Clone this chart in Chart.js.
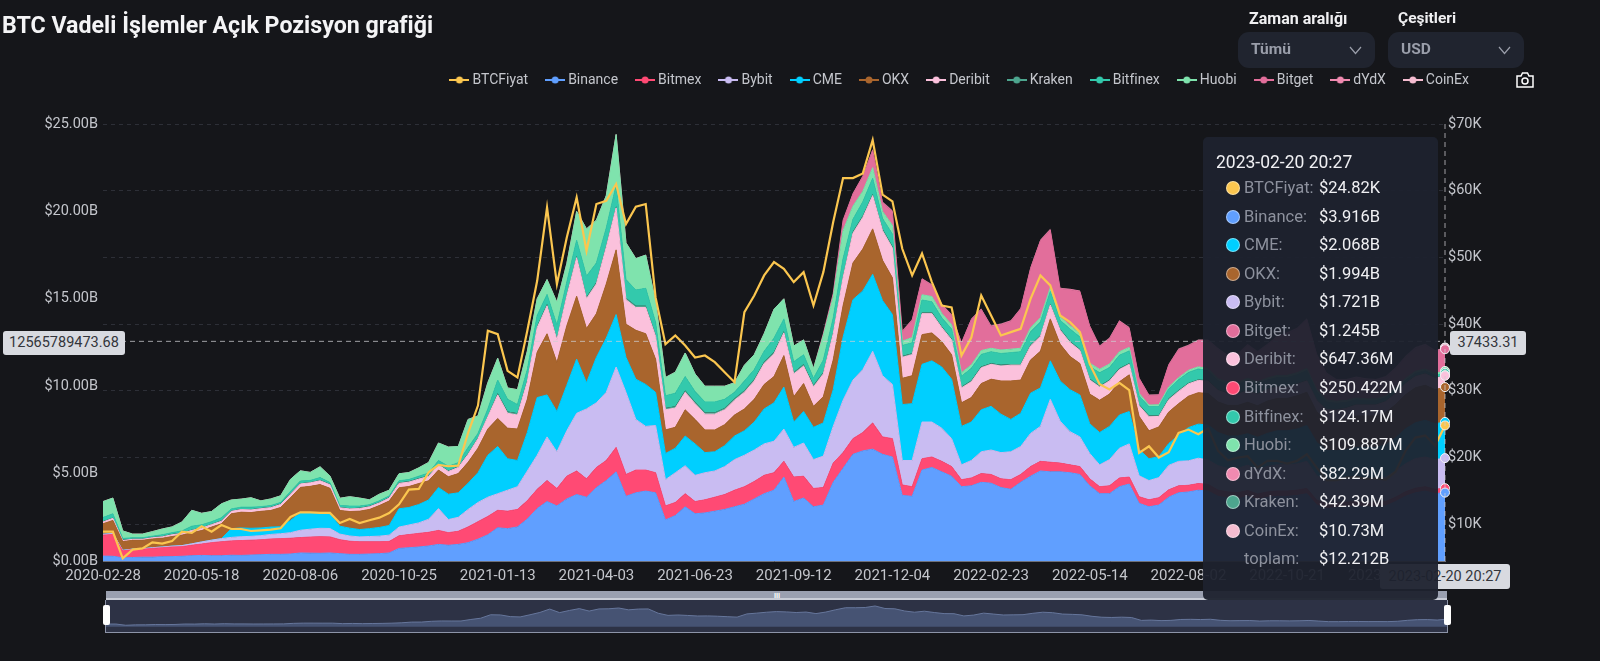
<!DOCTYPE html>
<html lang="tr">
<head>
<meta charset="utf-8">
<title>BTC Vadeli İşlemler Açık Pozisyon grafiği</title>
<script src="https://cdn.jsdelivr.net/npm/chart.js@4/dist/chart.umd.min.js"></script>
<style>
  html, body { margin: 0; padding: 0; background: #15161a; width: 1600px; height: 661px; overflow: hidden; font-family: Roboto, sans-serif; }
  .abs { position: absolute; white-space: nowrap; }
  #plot { position: absolute; left: 0; top: 0; }
  #titulo { left: 2px; top: 11px; font-size: 23.200px; font-weight: 700; color: #f4f4f6; }
  .etiqueta { top: 9px; font-size: 15.500px; font-weight: 700; color: #f0f0f2; }
  .selector { top: 32px; height: 36px; background: #20242f; border-radius: 11px; color: #9a9eaa; font-size: 15.500px; font-weight: 700; line-height: 34px; }
  .selector span { position: absolute; left: 13px; }
  .selector svg { position: absolute; right: 13px; top: 14px; }
  .caja { background: #d8dae0; color: #33353b; font-size: 14.500px; text-align: center; border-radius: 3px; }
  #tooltip { left: 1203px; top: 137px; width: 235px; height: 463px; background: rgba(30,34,46,.95); border-radius: 5px; color: #f0f0f3; font-size: 16.500px; }
  #tooltip .fecha { position: absolute; left: 13px; top: 15px; font-size: 17.500px; }
  #tooltip .nombre { position: absolute; left: 41px; color: #8d919d; }
  #tooltip .valor { position: absolute; left: 116px; }
  #tooltip .punto { position: absolute; left: 23px; width: 12px; height: 12px; border-radius: 50%; border: 1px solid rgba(255,255,255,.45); }
  #barra { left: 106px; top: 591px; width: 1341px; height: 7px; background: #9aa0b0; border-bottom: 2px solid #c8ccd6; }
  #panel { left: 105px; top: 600px; width: 1341px; height: 32px; background: #2d3245; border: 1px solid #8d94a8; border-top: 0; }
  #mini { position: absolute; left: 106px; top: 600px; }
  .asa { top: 605px; width: 7px; height: 20px; background: #fff; border-radius: 2px; }
</style>
</head>
<body>
<canvas id="plot" width="1600" height="661"></canvas>
<div class="abs" id="titulo">BTC Vadeli İşlemler Açık Pozisyon grafiği</div>
<div class="abs etiqueta" style="left:1249px;font-size:16px">Zaman aralığı</div>
<div class="abs etiqueta" style="left:1398px">Çeşitleri</div>
<div class="abs selector" style="left:1238px;width:137px"><span>Tümü</span><svg width="13" height="9" viewBox="0 0 13 9"><path d="M1 1l5.500 6.500L12 1" fill="none" stroke="#9a9eaa" stroke-width="1.200"/></svg></div>
<div class="abs selector" style="left:1388px;width:136px"><span>USD</span><svg width="13" height="9" viewBox="0 0 13 9"><path d="M1 1l5.500 6.500L12 1" fill="none" stroke="#9a9eaa" stroke-width="1.200"/></svg></div>
<svg class="abs" style="left:1516px;top:72px" width="18" height="16" viewBox="0 0 18 16"><path d="M1 4h4l1.500-3h5L13 4h4v11H1z" fill="none" stroke="#fff" stroke-width="1.500"/><circle cx="9" cy="9" r="3" fill="none" stroke="#fff" stroke-width="1.500"/></svg>

<div class="abs" id="barra"></div>
<div class="abs" id="panel"></div>
<canvas id="mini" width="1341" height="32"></canvas>
<div class="abs" style="left:774px;top:592px;font-size:7px;color:#fff;letter-spacing:0;font-weight:700">III</div>
<div class="abs asa" style="left:103px"></div>
<div class="abs asa" style="left:1444px"></div>

<div class="abs caja" style="left:3px;top:331px;width:122px;height:24px;line-height:24px">12565789473.68</div>
<div class="abs caja" style="left:1450px;top:331px;width:76px;height:24px;line-height:24px">37433.31</div>
<div class="abs caja" style="left:1380px;top:564px;width:130px;height:25px;line-height:25px">2023-02-20 20:27</div>
<div class="abs" id="tooltip"></div>

<script>
//Fechas de las marcas del eje x, una cada 10 muestras
const etiquetasEje = ['2020-02-28','2020-05-18','2020-08-06','2020-10-25','2021-01-13','2021-04-03','2021-06-23','2021-09-12','2021-12-04','2022-02-23','2022-05-14','2022-08-02','2022-10-21','2023-01-10'];

//Precio BTC en miles de dolares, una muestra cada 8 dias
const btcFiyat = [
  8.9,8.9,4.9,6.2,6.4,7.3,7.1,7.5,8.9,8.7,
  9.7,8.9,9.9,9.3,9.3,9.0,9.1,9.2,9.4,11.1,
  11.8,11.8,11.7,11.7,10.2,10.8,10.2,10.6,11.0,11.7,
  13.0,15.2,15.3,17.8,18.9,18.7,18.8,23.7,27.8,39.0,
  38.5,33.0,32.0,39.0,46.5,57.5,46.0,53.0,59.0,51.0,
  58.0,58.5,61.0,55.0,57.6,58.0,44.0,37.0,38.3,36.8,
  35.0,35.3,34.3,32.8,31.3,41.8,44.3,47.3,49.3,48.3,
  46.3,47.8,42.8,47.8,55.3,61.9,61.9,62.6,67.6,59.4,
  58.4,51.3,47.3,50.6,46.3,42.8,42.5,35.3,38.0,44.3,
  41.3,38.3,38.8,39.3,43.8,47.3,45.8,41.3,40.3,38.8,
  34.0,31.0,30.2,31.2,30.1,20.7,21.7,20.0,20.8,23.7,
  24.2,23.5,24.4,21.0,19.6,20.0,20.2,18.5,19.5,19.5,
  19.1,19.5,20.5,18.5,16.6,16.6,17.0,17.1,16.8,16.9,
  16.7,17.9,21.0,23.0,23.3,21.8,24.82
];

//Posiciones abiertas en miles de millones de dolares
const binance = [
  .28,.27,.18,.2,.22,.22,.24,.25,.27,.3,
  .32,.3,.3,.33,.32,.34,.36,.38,.38,.4,
  .46,.45,.44,.46,.42,.38,.38,.4,.42,.46,
  .72,.76,.8,.86,.95,.9,.95,1.05,1.25,1.5,
  1.9,1.85,1.95,2.4,3.0,3.4,3.15,3.55,3.8,3.65,
  4.2,4.6,5.1,3.7,3.9,4.0,3.9,2.35,2.6,3.1,
  2.7,2.75,2.85,2.95,3.1,3.25,3.55,3.85,4.05,4.8,
  3.4,3.6,3.1,3.2,4.5,5.3,6.1,6.3,6.4,6.1,
  5.95,3.75,3.7,5.2,5.35,5.1,4.85,4.25,4.3,4.5,
  4.45,4.2,4.1,4.5,4.85,5.15,5.1,5.1,5.05,4.95,
  4.3,3.85,3.85,4.25,4.4,3.3,3.1,3.2,3.65,3.9,
  3.95,4.05,4.0,3.7,3.6,3.55,3.7,3.5,3.65,3.7,
  3.7,3.75,3.85,3.2,3.0,3.05,3.1,3.15,3.1,3.1,
  3.15,3.4,3.7,3.9,4.0,3.85,3.916
];
const bitmex = [
  1.2,1.25,.4,.45,.45,.5,.52,.55,.55,.6,
  .65,.75,.8,.82,.85,.85,.85,.88,.9,.9,
  .88,.92,.95,.92,.8,.75,.72,.7,.68,.66,
  .72,.75,.78,.78,.8,.72,.75,.9,1.0,1.05,
  1.0,1.0,1.0,1.05,1.1,1.2,1.0,1.3,1.35,1.05,
  1.15,1.15,1.4,1.25,1.3,1.2,1.15,.8,.75,.75,
  .7,.75,.8,.85,.95,1.0,1.0,1.05,1.0,.9,
  1.4,1.25,1.05,1.0,1.1,.9,.9,1.05,1.5,1.0,
  1.05,.6,.55,.65,.6,.6,.55,.4,.45,.5,
  .5,.5,.55,.45,.55,.55,.55,.5,.45,.45,
  .4,.4,.45,.5,.4,.38,.4,.42,.42,.4,
  .38,.38,.38,.35,.35,.35,.33,.33,.3,.3,
  .3,.3,.3,.28,.28,.26,.26,.25,.25,.25,
  .25,.25,.26,.26,.25,.25,.25
];
const bybit = [
  .05,.05,.03,.03,.03,.04,.04,.05,.06,.08,
  .12,.14,.18,.2,.22,.22,.24,.26,.28,.32,
  .42,.45,.48,.48,.32,.3,.28,.3,.32,.36,
  .5,.55,.6,.75,1.25,.75,.8,1.0,1.1,1.1,
  .95,1.2,1.3,1.7,1.95,2.5,2.1,2.6,3.3,4.0,
  3.7,3.9,4.6,4.7,2.9,2.5,2.7,1.5,1.7,1.6,
  1.5,1.55,1.5,1.6,1.75,1.8,1.8,1.8,1.8,1.85,
  1.7,1.9,1.65,1.8,2.1,3.0,3.35,3.6,4.1,3.5,
  3.1,1.4,1.5,2.1,2.0,1.9,1.6,.85,1.0,1.25,
  1.4,1.5,1.6,1.6,1.9,2.0,3.6,2.4,1.9,1.7,
  1.45,1.25,1.5,1.7,1.9,1.2,1.1,1.15,1.4,1.4,
  1.4,1.45,1.4,1.4,1.35,1.4,1.45,1.4,1.45,1.5,
  1.5,1.5,1.55,1.4,1.3,1.3,1.3,1.35,1.35,1.35,
  1.4,1.5,1.6,1.7,1.7,1.7,1.721
];
const cme = [
  0,0,0,0,0,0,0,0,0,0,
  0,0,0,.5,.5,.46,.44,.42,.4,.7,
  1.0,.95,.9,.85,.45,.45,.42,.45,.5,.55,
  1.05,1.0,1.05,1.1,1.2,1.45,1.4,1.5,1.7,2.4,
  2.7,1.8,1.5,2.2,3.3,2.4,2.3,2.6,3.1,1.5,
  2.6,3.1,3.0,2.0,2.3,2.4,1.9,1.5,1.4,1.7,
  1.8,1.15,1.1,1.2,1.35,1.4,1.6,2.0,2.2,2.4,
  1.45,1.8,1.85,1.9,2.1,3.6,4.6,4.5,4.4,4.3,
  4.0,3.2,3.25,3.3,3.5,3.5,3.4,2.2,2.2,2.4,
  2.5,2.2,1.85,1.9,2.3,2.2,2.2,2.3,2.4,2.4,
  1.7,1.85,1.9,1.9,1.85,1.5,1.25,1.2,1.25,1.5,
  1.9,1.95,2.0,1.9,1.85,1.85,1.8,1.85,1.9,1.95,
  1.95,2.0,2.05,1.9,1.75,1.7,1.7,1.75,1.8,1.8,
  1.85,1.9,2.0,2.05,2.1,2.05,2.068
];
const okx = [
  .6,.75,.5,.5,.48,.5,.5,.55,.6,.65,
  .65,.75,.85,.85,.9,.9,.95,.95,1.1,1.3,
  1.45,1.5,1.6,1.45,.9,.95,1.05,1.1,1.25,1.4,
  1.2,1.2,1.2,1.1,1.0,1.0,1.1,1.2,1.4,1.5,
  1.6,1.75,1.8,1.9,2.6,3.5,2.8,3.4,3.6,3.1,
  2.5,3.1,3.7,1.9,2.8,2.9,1.9,1.35,1.2,1.5,
  1.4,1.3,1.25,1.2,1.2,1.25,1.3,1.4,1.5,1.8,
  1.45,1.6,1.2,1.5,1.7,1.8,2.1,2.4,2.6,2.3,
  2.1,1.5,1.6,1.7,1.6,1.45,1.4,1.35,1.4,1.5,
  1.55,1.9,2.2,1.9,1.9,2.1,2.4,2.1,1.9,1.8,
  1.7,1.85,1.85,1.9,2.1,1.9,1.6,1.7,1.8,1.8,
  1.8,1.8,1.8,1.75,1.75,1.75,1.8,1.8,1.85,1.85,
  1.85,1.9,1.9,1.75,1.7,1.7,1.75,1.8,1.8,1.8,
  1.85,1.9,1.95,2.0,2.0,1.95,1.994
];
const deribit = [
  .1,.12,.06,.06,.06,.07,.08,.1,.1,.12,
  .14,.14,.14,.14,.15,.15,.15,.16,.17,.2,
  .2,.2,.22,.2,.15,.15,.15,.15,.15,.17,
  .25,.25,.25,.25,.3,.3,.35,.45,.55,.7,
  1.35,.85,.8,1.0,1.4,1.6,1.3,1.7,2.2,1.7,
  1.7,2.1,2.4,1.4,1.3,1.5,1.3,1.15,1.1,1.0,
  .9,.9,.9,.85,.85,.95,1.05,1.2,1.3,1.3,
  1.3,1.0,1.1,1.3,1.5,1.6,1.7,1.8,1.9,1.7,
  1.7,1.2,1.2,1.2,1.1,.8,.85,.85,.9,.9,
  .85,.85,.9,.85,.8,.85,.8,.8,.8,.75,
  .8,.75,.75,.7,.6,.6,.8,.6,.7,.7,
  .7,.7,.7,.65,.65,.65,.65,.65,.65,.65,
  .65,.65,.65,.65,.62,.62,.62,.62,.62,.62,
  .62,.63,.63,.64,.65,.65,.647
];
const kraken = [
  .04,.04,.04,.04,.04,.04,.04,.04,.04,.04,
  .04,.04,.04,.04,.04,.04,.04,.04,.04,.04,
  .04,.04,.04,.04,.04,.04,.04,.04,.04,.04,
  .05,.05,.05,.05,.05,.05,.05,.05,.05,.05,
  .1,.1,.1,.1,.1,.1,.1,.1,.1,.1,
  .1,.1,.1,.1,.1,.1,.1,.1,.1,.1,
  .1,.1,.1,.1,.1,.1,.1,.1,.1,.1,
  .1,.1,.1,.1,.1,.1,.1,.1,.1,.1,
  .1,.08,.08,.08,.08,.07,.07,.07,.07,.07,
  .07,.07,.07,.07,.07,.07,.07,.07,.07,.07,
  .07,.07,.07,.07,.07,.07,.07,.07,.07,.07,
  .06,.06,.06,.06,.06,.06,.05,.05,.05,.05,
  .05,.05,.05,.05,.05,.05,.05,.05,.05,.05,
  .04,.04,.04,.04,.04,.04,.042
];
const bitfinex = [
  .22,.22,.08,.05,.05,.05,.08,.08,.1,.2,
  .15,.13,.16,.1,.1,.12,.08,.08,.08,.12,
  .12,.1,.14,.09,.1,.12,.1,.08,.08,.08,
  .1,.1,.12,.14,.2,.25,.22,.35,.25,.4,
  .75,.7,.5,.6,.6,.55,.75,.7,.9,1.2,
  1.1,1.0,1.2,1.05,.9,1.0,.7,.7,.75,.8,
  .6,.6,.6,.5,.35,.55,.55,.6,.8,.7,
  .6,.55,.4,.7,.8,1.0,.7,.8,.9,.6,
  .7,.6,.6,.7,.6,.5,.55,.6,.7,.7,
  .65,.65,.65,.7,.75,.75,.7,.5,.7,.7,
  .7,.75,.7,.75,.7,.5,.5,.5,.55,.6,
  .6,.6,.55,.5,.5,.5,.55,.55,.5,.5,
  .5,.5,.55,.45,.4,.35,.3,.25,.2,.2,
  .18,.18,.16,.15,.14,.13,.124
];
const huobi = [
  .91,.9,.43,.21,.21,.26,.33,.33,.51,.91,
  .66,.58,.8,.51,.46,.54,.33,.38,.38,.69,
  .59,.46,.62,.37,.41,.54,.46,.28,.38,.33,
  .4,.4,.48,.61,1.0,1.1,.93,1.6,1.0,1.5,
  1.25,.65,.85,1.05,.95,.85,1.3,1.05,1.65,2.7,
  2.45,1.85,2.9,2.1,1.8,1.9,1.2,1.05,1.2,1.35,
  1.0,.9,.9,.75,.55,.9,.85,1.0,1.65,1.15,
  .9,.85,.55,1.4,1.2,1.6,.75,.6,.6,.4,
  .5,.25,.3,.3,.3,.25,.25,.2,.2,.22,
  .2,.2,.2,.2,.22,.25,.22,.2,.2,.2,
  .2,.2,.2,.2,.2,.15,.1,.1,.12,.12,
  .12,.12,.12,.12,.12,.12,.12,.12,.12,.12,
  .12,.12,.12,.12,.11,.11,.11,.11,.11,.11,
  .11,.11,.11,.11,.11,.11,.11
];
const bitget = [
  0,0,0,0,0,0,0,0,0,0,
  0,0,0,0,0,0,0,0,0,0,
  0,0,0,0,0,0,0,0,0,0,
  0,0,0,0,0,0,0,0,0,0,
  0,0,0,0,0,0,0,0,0,0,
  0,0,0,0,0,0,0,0,0,0,
  0,0,0,0,0,0,0,0,0,0,
  0,0,0,.1,.2,.6,.7,.85,1.0,.5,
  .8,.55,1.0,.9,.65,.5,.55,1.7,2.6,2.35,
  1.25,1.45,1.6,2.25,3.4,4.4,3.3,1.6,2.05,2.4,
  2.1,1.3,1.45,1.75,1.1,.85,.55,.55,1.25,1.6,
  1.4,1.5,1.6,1.7,1.5,1.6,1.9,1.7,1.9,2.2,
  2.4,2.5,2.8,2.0,1.5,1.2,1.15,1.15,1.1,1.05,
  1.05,1.1,1.2,1.3,1.35,1.25,1.245
];
const dydx = [
  0,0,0,0,0,0,0,0,0,0,
  0,0,0,0,0,0,0,0,0,0,
  0,0,0,0,0,0,0,0,0,0,
  0,0,0,0,0,0,0,0,0,0,
  0,0,0,0,0,0,0,0,0,0,
  0,0,0,0,0,0,0,0,0,0,
  0,0,0,0,0,0,0,0,0,0,
  0,0,0,0,0,0,.04,.05,.06,.05,
  .05,.04,.04,.04,.04,.04,.04,.05,.05,.05,
  .05,.05,.05,.05,.06,.06,.06,.05,.05,.05,
  .05,.05,.05,.05,.05,.04,.04,.04,.05,.05,
  .05,.05,.05,.05,.05,.05,.05,.05,.05,.06,
  .06,.06,.06,.06,.06,.06,.06,.07,.07,.07,
  .07,.07,.08,.08,.08,.08,.082
];
const coinex = [
  0,0,0,0,0,0,0,0,0,0,
  0,0,0,0,0,0,0,0,0,0,
  0,0,0,0,0,0,0,0,0,0,
  0,0,0,0,0,0,0,0,0,0,
  0,0,0,0,0,0,0,0,0,0,
  0,0,0,0,0,0,0,0,0,0,
  0,0,0,0,0,0,0,0,0,0,
  0,0,0,0,0,0,.01,.01,.01,.01,
  .01,.01,.01,.01,.01,.01,.01,.01,.01,.01,
  .01,.01,.01,.01,.01,.01,.01,.01,.01,.01,
  .01,.01,.01,.01,.01,.01,.01,.01,.01,.01,
  .01,.01,.01,.01,.01,.01,.01,.01,.01,.01,
  .01,.01,.01,.01,.01,.01,.01,.01,.01,.01,
  .01,.01,.01,.01,.01,.01,.011
];

//Valores donde cruza la mira
const miraOI = 12.56578947368;
const miraBTC = 37.43331;

const nombres = ['BTCFiyat','Binance','Bitmex','Bybit','CME','OKX','Deribit','Kraken','Bitfinex','Huobi','Bitget','dYdX','CoinEx'];
const colores = ['#fbc64f','#609fff','#ff4a74','#c9bcf2','#00cfff','#a9652d','#fbc1dc','#4da58e','#33c9ac','#7fe3ad','#e26e9b','#f08ab0','#f5bcd0'];
const valores = [btcFiyat,binance,bitmex,bybit,cme,okx,deribit,kraken,bitfinex,huobi,bitget,dydx,coinex];

//Filas del tooltip en el orden de la pagina original
const filasNombre = ['BTCFiyat','Binance','CME','OKX','Bybit','Bitget','Deribit','Bitmex','Bitfinex','Huobi','dYdX','Kraken','CoinEx','toplam'];
const filasValor = ['$24.82K','$3.916B','$2.068B','$1.994B','$1.721B','$1.245B','$647.36M','$250.422M','$124.17M','$109.887M','$82.29M','$42.39M','$10.73M','$12.212B'];

//Una categoria cada 8 dias desde el inicio
let inicio = new Date('2020-02-28T00:00:00Z').getTime();
let categorias = btcFiyat.map((_, i) => new Date(inicio + i * 8 * 864e5).toISOString().slice(0, 10));
let ultimo = btcFiyat.length - 1;

//Icono de la leyenda: linea corta con un punto
let iconoLeyenda = (color) => {
  let c = document.createElement('canvas');
  c.width = 20; c.height = 10;
  let g = c.getContext('2d');
  g.strokeStyle = color; g.lineWidth = 2;
  g.beginPath(); g.moveTo(0, 5); g.lineTo(20, 5); g.stroke();
  g.fillStyle = color;
  g.beginPath(); g.arc(10, 5, 3.5, 0, Math.PI * 2); g.fill();
  return c;
};
let iconos = colores.map(iconoLeyenda);

let datasets = nombres.map((nombre, i) => {
  let esPrecio = i === 0;
  return {
    label: nombre,
    data: valores[i],
    yAxisID: esPrecio ? 'y1' : 'y',
    stack: esPrecio ? 'precio' : 'oi',
    borderColor: colores[i],
    backgroundColor: colores[i],
    borderWidth: esPrecio ? 2.200 : (i >= 11 || i === 7 ? 0 : 1),
    fill: esPrecio ? false : (i === 1 ? 'origin' : '-1'),
    tension: 0,
    clip: false,
    pointRadius: (ctx) => ctx.dataIndex === ultimo ? 4.5 : 0,
    pointBackgroundColor: colores[i],
    pointBorderColor: '#f2f2f5',
    pointBorderWidth: 1
  };
});

//Lineas punteadas de la mira
let pluginMira = {
  id: 'mira',
  beforeInit(chart) {
    //Deja aire entre la leyenda y el area del grafico
    let ajuste = chart.legend.fit;
    chart.legend.fit = function () {
      ajuste.call(this);
      this.height += 27;
    };
  },
  afterDatasetsDraw(chart) {
    let g = chart.ctx;
    let area = chart.chartArea;
    let x = chart.scales.x.getPixelForValue(ultimo);
    let y = chart.scales.y.getPixelForValue(miraOI);
    g.save();
    g.setLineDash([5, 4]);
    g.lineWidth = 1;
    g.strokeStyle = 'rgba(205,205,210,.75)';
    g.beginPath();
    g.moveTo(area.left, y); g.lineTo(x, y);
    g.moveTo(x, area.top); g.lineTo(x, area.bottom);
    g.stroke();
    g.restore();
  }
};

new Chart(document.getElementById('plot'), {
  type: 'line',
  data: { labels: categorias, datasets: datasets },
  plugins: [pluginMira],
  options: {
    responsive: false,
    animation: false,
    events: [],
    layout: { padding: { left: 0, right: 110, top: 52, bottom: 72 } },
    plugins: {
      tooltip: { enabled: false },
      legend: {
        position: 'top',
        align: 'end',
        labels: {
          color: '#c4c6cc',
          font: { family: 'Roboto', size: 14 },
          usePointStyle: true,
          pointStyleWidth: 12,
          padding: 21,
          generateLabels: (chart) => nombres.map((n, i) => ({
            text: n, fontColor: '#c4c6cc', pointStyle: iconos[i], datasetIndex: i, hidden: false, lineWidth: 0
          }))
        }
      }
    },
    scales: {
      x: {
        offset: false,
        grid: { display: false, drawTicks: false },
        border: { display: true, color: '#6e7079' },
        afterFit(s) { s.height = 28; },
        ticks: {
          color: '#c4c6cc',
          font: { family: 'Roboto', size: 15 },
          autoSkip: false,
          maxRotation: 0,
          padding: 6,
          callback(v, i) { return i % 10 === 0 ? etiquetasEje[i / 10] : null; }
        }
      },
      y: {
        position: 'left',
        stacked: true,
        min: 0,
        max: 25,
        grid: { display: false, drawTicks: false },
        border: { display: false },
        afterFit(s) { s.width = 103; },
        ticks: {
          stepSize: 5,
          color: '#c4c6cc',
          padding: 5,
          font: { family: 'Roboto', size: 14.5 },
          callback: (v) => '$' + v.toFixed(2) + 'B'
        }
      },
      y1: {
        position: 'right',
        min: 4.5,
        max: 70,
        grid: { color: '#2d2f37', drawTicks: false },
        border: { display: false, dash: [4, 4] },
        afterFit(s) { s.width = 45; },
        ticks: {
          stepSize: 10,
          color: '#c4c6cc',
          padding: 3,
          font: { family: 'Roboto', size: 14.5 },
          callback: (v) => v % 10 === 0 ? '$' + v + 'K' : null
        }
      }
    }
  }
});

//Vista general bajo el grafico
new Chart(document.getElementById('mini'), {
  type: 'line',
  data: {
    labels: categorias,
    datasets: [{
      data: btcFiyat,
      borderColor: '#66769b',
      backgroundColor: '#465373',
      borderWidth: 1,
      fill: 'origin',
      tension: 0,
      pointRadius: 0
    }]
  },
  options: {
    responsive: false,
    animation: false,
    events: [],
    plugins: { legend: { display: false }, tooltip: { enabled: false } },
    scales: {
      x: { display: false, offset: false },
      y: { display: false, min: -17, max: 87 }
    }
  }
});

//Tooltip fijo como en la captura
let tooltip = document.getElementById('tooltip');
let htmlFilas = '<div class="fecha">2023-02-20 20:27</div>';
filasNombre.forEach((n, i) => {
  let alto = 41 + i * 28.57;
  let idx = nombres.indexOf(n);
  if (idx >= 0) htmlFilas += `<div class="punto" style="top:${alto + 3}px;background:${colores[idx]}"></div>`;
  htmlFilas += `<div class="nombre" style="top:${alto}px">${n}:</div><div class="valor" style="top:${alto}px">${filasValor[i]}</div>`;
});
tooltip.innerHTML = htmlFilas;
</script>
</body>
</html>
